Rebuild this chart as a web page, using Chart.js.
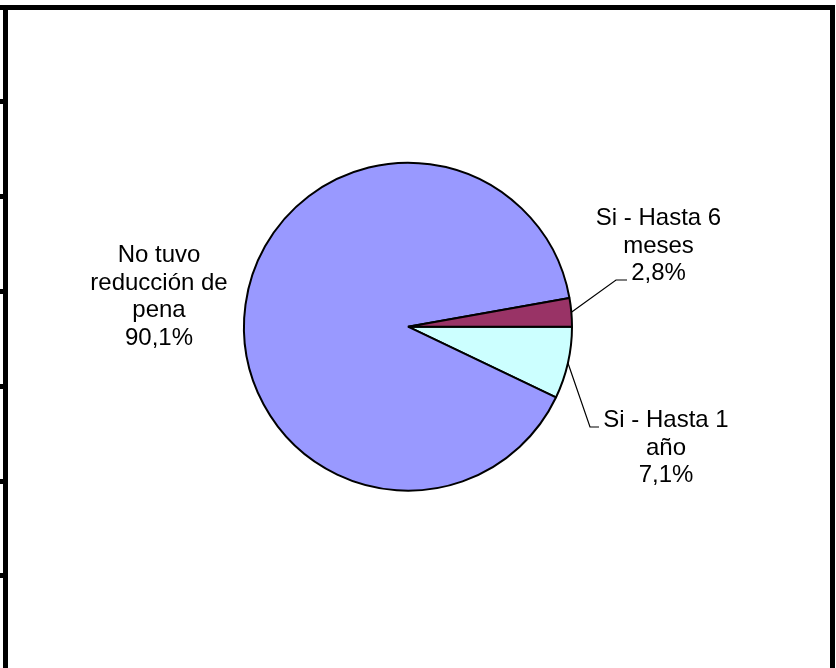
<!DOCTYPE html>
<html>
<head>
<meta charset="utf-8">
<script src="https://cdn.jsdelivr.net/npm/chart.js@4/dist/chart.umd.min.js"></script>
<style>
  html, body { margin:0; padding:0; background:#fff; }
  #wrap { position:relative; width:836px; height:668px; overflow:hidden; background:#fff; }
  canvas { position:absolute; left:0; top:0; }
  .bar { position:absolute; background:#000; }
</style>
</head>
<body>
<div id="wrap">
  <canvas id="c" width="836" height="668"></canvas>
  <div class="bar" style="left:0;top:5px;width:835px;height:5px"></div>
  <div class="bar" style="left:3px;top:5px;width:5px;height:663px"></div>
  <div class="bar" style="left:830px;top:5px;width:5px;height:663px"></div>
  <div class="bar" style="left:0;top:99px;width:4px;height:5px"></div>
  <div class="bar" style="left:0;top:194px;width:4px;height:5px"></div>
  <div class="bar" style="left:0;top:289px;width:4px;height:5px"></div>
  <div class="bar" style="left:0;top:384px;width:4px;height:5px"></div>
  <div class="bar" style="left:0;top:479px;width:4px;height:5px"></div>
  <div class="bar" style="left:0;top:573px;width:4px;height:5px"></div>
</div>
<script>
// Data (clockwise from 3 o'clock)
const categories = ['Si - Hasta 1 año', 'No tuvo reducción de pena', 'Si - Hasta 6 meses'];
const labelLines = [['Si - Hasta 1', 'año'], ['No tuvo', 'reducción de', 'pena'], ['Si - Hasta 6', 'meses']];
const values = [7.1, 90.1, 2.8];

// Styles
const colors = ['#CCFFFF', '#9999FF', '#993366'];
// Label placement (text center x, first baseline y) and leader elbow points
const labelPlace = [
  { x: 666, y: 427, elbow: [[590, 427], [599, 427]] },
  { x: 159, y: 262, elbow: null },
  { x: 658.5, y: 225, elbow: [[616, 280], [627, 280]] }
];
const lineH = 27.7;

const labelPlugin = {
  id: 'pieLabels',
  afterDatasetsDraw(chart) {
    const ctx = chart.ctx;
    const meta = chart.getDatasetMeta(0);
    ctx.save();
    ctx.font = '24px "Liberation Sans", Arial, sans-serif';
    ctx.fillStyle = '#000';
    ctx.textAlign = 'center';
    ctx.textBaseline = 'alphabetic';
    meta.data.forEach((arc, i) => {
      const p = labelPlace[i];
      const lines = labelLines[i].concat([values[i].toFixed(1).replace('.', ',') + '%']);
      lines.forEach((t, k) => ctx.fillText(t, p.x, p.y + k * lineH));
      if (p.elbow) {
        const mid = (arc.startAngle + arc.endAngle) / 2;
        const sx = arc.x + Math.cos(mid) * arc.outerRadius;
        const sy = arc.y + Math.sin(mid) * arc.outerRadius;
        ctx.beginPath();
        ctx.lineWidth = 1.2;
        ctx.strokeStyle = '#000';
        ctx.moveTo(sx, sy);
        p.elbow.forEach(pt => ctx.lineTo(pt[0], pt[1]));
        ctx.stroke();
      }
    });
    ctx.restore();
  }
};

new Chart(document.getElementById('c'), {
  type: 'pie',
  data: {
    labels: categories,
    datasets: [{
      data: values,
      backgroundColor: colors,
      borderColor: '#000',
      borderWidth: 2
    }]
  },
  options: {
    responsive: false,
    animation: false,
    rotation: 90,
    layout: { padding: { left: 243, right: 263, top: 161.7, bottom: 176.3 } },
    plugins: { legend: { display: false }, tooltip: { enabled: false } }
  },
  plugins: [labelPlugin]
});
</script>
</body>
</html>
